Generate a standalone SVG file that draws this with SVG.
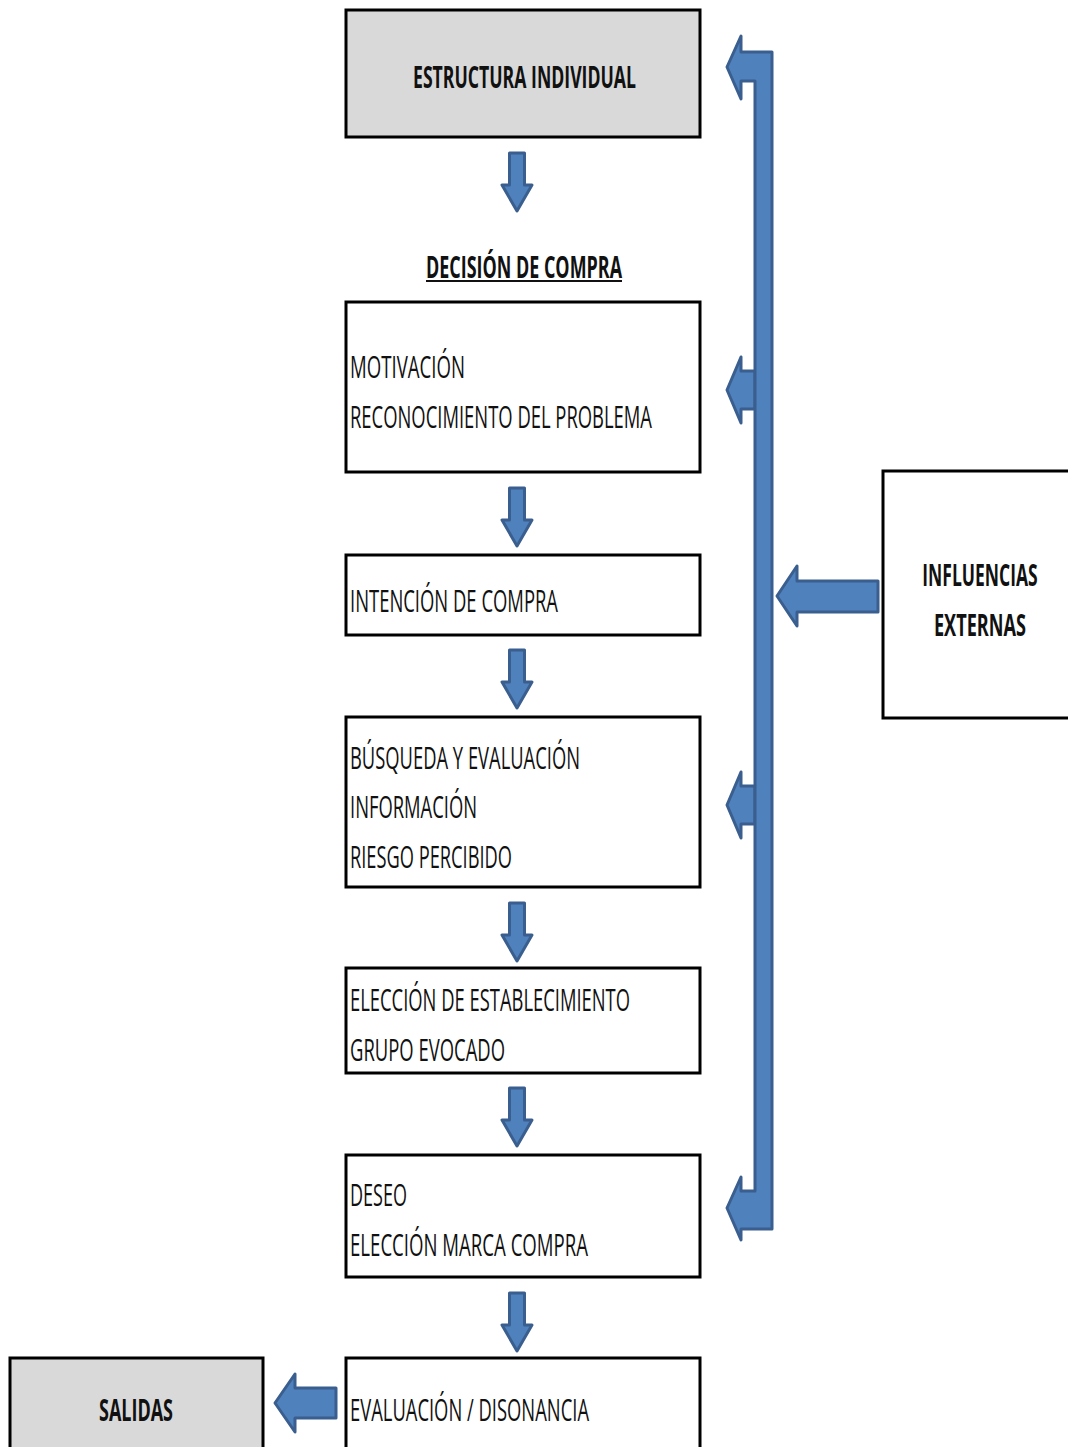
<svg xmlns="http://www.w3.org/2000/svg" xmlns:xlink="http://www.w3.org/1999/xlink" width="1068" height="1447" viewBox="0 0 1068 1447">
  <style>
    .box { fill: #ffffff; stroke: #000000; stroke-width: 3; }
    .grey { fill: #d9d9d9; }
    .blk { fill: #4f81bd; stroke: #3a5f8f; stroke-width: 3; stroke-linejoin: round; }
    .t { font-family: "Open Sans", "Liberation Sans", sans-serif; font-size: 31px; fill: #111111; }
    .b { font-weight: bold; }
  </style>
  <defs>
    <!-- small block arrow pointing down, origin at shaft top centre -->
    <path id="down" class="blk" d="M -7.5 0 H 7.5 V 32 H 15 L 0 58 L -15 32 H -7.5 Z"/>
    <!-- block arrow pointing left, origin at tip -->
    <path id="leftSmall" class="blk" d="M 0 0 L 14 -33 V -19 H 28 V 19 H 14 V 33 Z"/>
  </defs>

  <rect x="0" y="0" width="1068" height="1447" fill="#ffffff"/>

  <g id="connectors">
    <use xlink:href="#down" x="517" y="153"/>
    <use xlink:href="#down" x="517" y="488"/>
    <use xlink:href="#down" x="517" y="650"/>
    <use xlink:href="#down" x="517" y="903"/>
    <use xlink:href="#down" x="517" y="1088"/>
    <use xlink:href="#down" x="517" y="1293"/>

    <!-- side arrows off the vertical feedback bar -->
    <use xlink:href="#leftSmall" x="727" y="390"/>
    <use xlink:href="#leftSmall" x="727" y="805"/>

    <!-- vertical bar with bent arrows at both ends -->
    <path class="blk" d="M 772 52 H 741 V 36 L 727 67 L 741 99 V 81 H 755 V 1191 H 741 V 1177 L 727 1208 L 741 1240 V 1229 H 772 Z"/>

    <!-- external influences arrow -->
    <path class="blk" d="M 777 596 L 797 566 V 581 H 878 V 612 H 797 V 626 Z"/>

    <!-- outputs arrow -->
    <path class="blk" d="M 275 1403 L 295 1374 V 1388 H 336 V 1418 H 295 V 1432 Z"/>
  </g>

  <g id="estructura">
    <rect class="box grey" x="346" y="10" width="354" height="127"/>
    <text class="t b" x="413" y="88" textLength="223" lengthAdjust="spacingAndGlyphs">ESTRUCTURA INDIVIDUAL</text>
  </g>

  <g id="decision-title">
    <text class="t b" x="426" y="278" textLength="196" lengthAdjust="spacingAndGlyphs">DECISIÓN DE COMPRA</text>
    <rect x="426" y="280" width="196" height="2" fill="#111111"/>
  </g>

  <g id="motivacion">
    <rect class="box" x="346" y="302" width="354" height="170"/>
    <text class="t" x="350" y="378" textLength="115" lengthAdjust="spacingAndGlyphs">MOTIVACIÓN</text>
    <text class="t" x="350" y="428" textLength="302" lengthAdjust="spacingAndGlyphs">RECONOCIMIENTO DEL PROBLEMA</text>
  </g>

  <g id="intencion">
    <rect class="box" x="346" y="555" width="354" height="80"/>
    <text class="t" x="350" y="612" textLength="208" lengthAdjust="spacingAndGlyphs">INTENCIÓN DE COMPRA</text>
  </g>

  <g id="busqueda">
    <rect class="box" x="346" y="717" width="354" height="170"/>
    <text class="t" x="350" y="769" textLength="230" lengthAdjust="spacingAndGlyphs">BÚSQUEDA Y EVALUACIÓN</text>
    <text class="t" x="350" y="818" textLength="127" lengthAdjust="spacingAndGlyphs">INFORMACIÓN</text>
    <text class="t" x="350" y="868" textLength="162" lengthAdjust="spacingAndGlyphs">RIESGO PERCIBIDO</text>
  </g>

  <g id="eleccion-establecimiento">
    <rect class="box" x="346" y="968" width="354" height="105"/>
    <text class="t" x="350" y="1011" textLength="280" lengthAdjust="spacingAndGlyphs">ELECCIÓN DE ESTABLECIMIENTO</text>
    <text class="t" x="350" y="1061" textLength="155" lengthAdjust="spacingAndGlyphs">GRUPO EVOCADO</text>
  </g>

  <g id="deseo">
    <rect class="box" x="346" y="1155" width="354" height="122"/>
    <text class="t" x="350" y="1206" textLength="57" lengthAdjust="spacingAndGlyphs">DESEO</text>
    <text class="t" x="350" y="1256" textLength="238" lengthAdjust="spacingAndGlyphs">ELECCIÓN MARCA COMPRA</text>
  </g>

  <g id="evaluacion">
    <rect class="box" x="346" y="1358" width="354" height="100"/>
    <text class="t" x="350" y="1421" textLength="239" lengthAdjust="spacingAndGlyphs">EVALUACIÓN / DISONANCIA</text>
  </g>

  <g id="salidas">
    <rect class="box grey" x="10" y="1358" width="253" height="100"/>
    <text class="t b" x="99" y="1421" textLength="74" lengthAdjust="spacingAndGlyphs">SALIDAS</text>
  </g>

  <g id="influencias">
    <rect class="box" x="883" y="471" width="200" height="247"/>
    <!-- condensed labels: horizontal squeeze applied by transform -->
    <text class="t b" text-anchor="middle" transform="translate(980 586) scale(0.565 1)">INFLUENCIAS</text>
    <text class="t b" text-anchor="middle" transform="translate(980 636) scale(0.585 1)">EXTERNAS</text>
  </g>
</svg>
